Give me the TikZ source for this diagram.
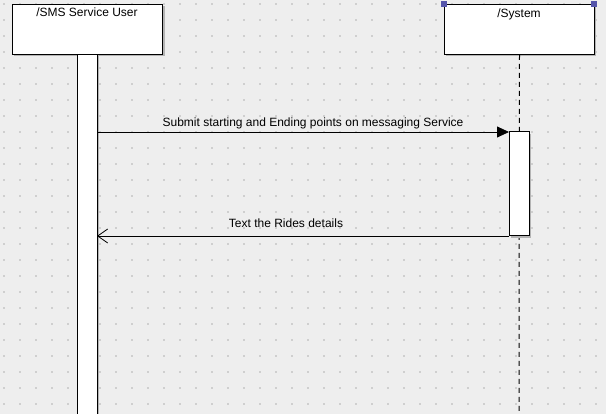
\documentclass[tikz,border=0pt]{standalone}
\usepackage{fontspec}
\setmainfont{Liberation Sans}
\usetikzlibrary{arrows.meta}
\definecolor{bg}{HTML}{EEEEEE}
\definecolor{dotc}{HTML}{CFCFCF}
\definecolor{shadowc}{HTML}{B4B4B4}
\definecolor{handle}{HTML}{5555AA}
\tikzset{
  lifebox/.style={draw=black, fill=white, line width=1pt, minimum width=150pt, minimum height=50pt, inner sep=0pt, anchor=north west},
  boxshadow/.style={fill=shadowc, draw=none},
  actbar/.style={draw=black, fill=white, line width=1pt},
  msg/.style={line width=0.8pt},
  lbl/.style={font=\fontsize{12}{14}\selectfont, inner sep=0pt},
  handlesq/.style={fill=handle, draw=none, minimum size=6pt, inner sep=0pt}
}
\begin{document}
\begin{tikzpicture}[x=1pt,y=-1pt]
\useasboundingbox (0,0) rectangle (606,414);
\fill[bg] (0,0) rectangle (606,414);
% grid dots
\foreach \i in {0,...,37} {
  \foreach \j in {0,...,25} {
    \fill[dotc] ({4+16*\i-1},{4+16*\j-1}) rectangle ++(2,2);
  }
}
% user box + lifeline bar
\fill[boxshadow] (14,6) rectangle (165,56);
\fill[boxshadow] (79,56) rectangle (99,414);
\draw[actbar] (77,54) rectangle (97,416);
\node[lifebox] (user) at (12,4) {};
\node[lbl, anchor=north] (userlbl) at (87,8) {/SMS Service User};
% system box + dashed lifeline
\fill[boxshadow] (446,6) rectangle (596,56);
\node[lifebox] (sys) at (444,4) {};
\node[lbl, anchor=north] (syslbl) at (519,8.5) {/System};
\coordinate (sysbot) at (519,414);
\draw[line width=1pt, dash pattern=on 5pt off 4pt] (sys.south) -- (sysbot);
\node[handlesq] (h1) at (444,4) {};
\node[handlesq] (h2) at (594,4) {};
% system activation
\fill[boxshadow] (511,134) rectangle (531,238);
\draw[actbar] (509,132) rectangle (529,236);
% message endpoints
\coordinate (m1s) at (97,132);
\coordinate (m1e) at (509,132);
\coordinate (m2s) at (509,236);
\coordinate (m2e) at (97,236);
\draw[msg, -{Triangle[length=12pt,width=11pt]}] (m1s) -- (m1e);
\node[lbl] (l1) at (313,123) {Submit starting and Ending points on messaging Service};
\draw[msg, -{Straight Barb[length=10pt,width=14pt,line width=0.8pt]}] (m2s) -- (m2e);
\node[lbl] (l2) at (286,223) {Text the Rides details};
\end{tikzpicture}
\end{document}
